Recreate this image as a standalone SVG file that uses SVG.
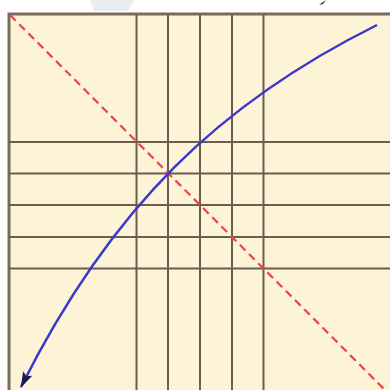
<svg xmlns="http://www.w3.org/2000/svg" width="390" height="390" viewBox="0 0 390 390">
  <style>
    .board { fill: #fdf3d6; stroke: #7a6b5c; stroke-width: 3; }
    .grid { stroke: #6b5e50; stroke-width: 2; fill: none; }
    .diag { stroke: #dd4b4b; stroke-width: 2.2; stroke-dasharray: 8 5; fill: none; }
    .curve { stroke: #3b36cc; stroke-width: 2.5; fill: none; }
  </style>
  <defs>
    <marker id="arrow" viewBox="0 0 16 10" refX="15" refY="5" markerWidth="16" markerHeight="10" markerUnits="userSpaceOnUse" orient="auto">
      <path d="M0,0 L16,5 L0,10 L3,5 Z" fill="#1c1a5a"/>
    </marker>
  </defs>
  <rect width="390" height="390" fill="#ffffff"/>
  <path d="M90,0 L134,0 L128,11 L94,11 Z" fill="#e9ecf1"/>
  <path d="M319,5 L326,0 L323,4 Z" fill="#222"/>
  <g id="board">
    <rect class="board" x="9" y="14" width="390" height="390"/>
  </g>
  <g id="grid">
    <line class="grid" x1="136.5" y1="14" x2="136.5" y2="390"/>
    <line class="grid" x1="168" y1="14" x2="168" y2="390"/>
    <line class="grid" x1="200" y1="14" x2="200" y2="390"/>
    <line class="grid" x1="232" y1="14" x2="232" y2="390"/>
    <line class="grid" x1="263.5" y1="14" x2="263.5" y2="390"/>
    <line class="grid" x1="9" y1="142" x2="390" y2="142"/>
    <line class="grid" x1="9" y1="173.5" x2="390" y2="173.5"/>
    <line class="grid" x1="9" y1="205" x2="390" y2="205"/>
    <line class="grid" x1="9" y1="237" x2="390" y2="237"/>
    <line class="grid" x1="9" y1="268.5" x2="390" y2="268.5"/>
  </g>
  <g id="connectors">
    <line class="diag" x1="10" y1="15" x2="390" y2="395"/>
    <path class="curve" d="M377,25 C222,102 112,205 21,387" marker-end="url(#arrow)"/>
  </g>
</svg>
